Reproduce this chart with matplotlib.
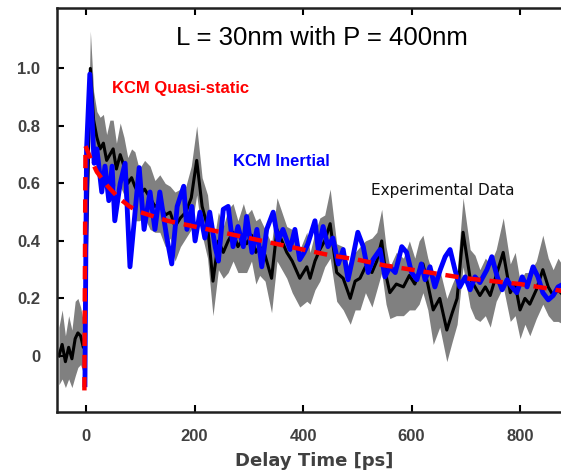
import numpy as np
import matplotlib
matplotlib.use("Agg")
from matplotlib import pyplot as plt

# experimental data (black line + grey band)
t_exp = [-50, -44, -38, -32, -26, -20, -15, -10, -5, -3, 8, 14, 20, 26, 32, 38, 44, 50, 56, 63,
         70, 77, 84, 90, 98, 108, 118, 127, 136, 146, 155, 164, 174, 184, 194, 204, 214, 224, 234, 244,
         253, 262, 271, 280, 290, 296, 305, 313, 320, 330, 342, 352, 361, 370, 380, 394, 407, 413, 422, 431,
         440, 450, 462, 474, 487, 496, 505, 515, 527, 536, 545, 553, 560, 572, 585, 596, 606, 614, 621, 630,
         640, 652, 665, 675, 684, 695, 708, 717, 726, 736, 745, 756, 769, 782, 791, 800, 809, 818, 830, 842,
         852, 861, 870, 880]
v_exp = [0.00, 0.04, -0.02, 0.03, -0.01, 0.06, 0.08, 0.07, 0.03, 0.04, 1.00, 0.82, 0.76, 0.72, 0.74, 0.68, 0.70, 0.72, 0.65, 0.70,
         0.66, 0.60, 0.62, 0.59, 0.56, 0.58, 0.55, 0.52, 0.53, 0.49, 0.50, 0.45, 0.48, 0.50, 0.55, 0.68, 0.52, 0.45, 0.26, 0.40,
         0.36, 0.40, 0.43, 0.38, 0.41, 0.39, 0.42, 0.36, 0.38, 0.35, 0.27, 0.44, 0.40, 0.36, 0.33, 0.27, 0.31, 0.27, 0.33, 0.37,
         0.40, 0.46, 0.29, 0.27, 0.20, 0.26, 0.27, 0.31, 0.29, 0.33, 0.40, 0.28, 0.22, 0.25, 0.24, 0.28, 0.25, 0.29, 0.32, 0.25,
         0.16, 0.20, 0.09, 0.15, 0.20, 0.43, 0.27, 0.24, 0.21, 0.24, 0.21, 0.28, 0.36, 0.22, 0.25, 0.16, 0.20, 0.18, 0.23, 0.30,
         0.24, 0.21, 0.23, 0.21]
err_exp = [0.10, 0.12, 0.09, 0.11, 0.10, 0.13, 0.12, 0.10, 0.09, 0.09, 0.13, 0.10, 0.09, 0.11, 0.10, 0.09, 0.12, 0.10, 0.09, 0.11,
           0.10, 0.09, 0.10, 0.12, 0.09, 0.10, 0.11, 0.09, 0.10, 0.11, 0.09, 0.12, 0.10, 0.09, 0.11, 0.12, 0.10, 0.11, 0.12, 0.10,
           0.09, 0.11, 0.10, 0.09, 0.12, 0.10, 0.09, 0.11, 0.10, 0.09, 0.12, 0.11, 0.10, 0.09, 0.11, 0.10, 0.12, 0.09, 0.10, 0.11,
           0.09, 0.12, 0.10, 0.11, 0.09, 0.10, 0.11, 0.09, 0.12, 0.10, 0.11, 0.10, 0.09, 0.11, 0.10, 0.12, 0.09, 0.11, 0.10, 0.09,
           0.12, 0.10, 0.11, 0.10, 0.09, 0.12, 0.10, 0.11, 0.09, 0.10, 0.11, 0.09, 0.12, 0.10, 0.11, 0.10, 0.09, 0.11, 0.10, 0.12,
           0.10, 0.09, 0.11, 0.10]

# KCM inertial (blue)
t_in = [-2, 1, 7, 15, 20, 29, 35, 42, 48, 53, 63, 72, 81, 98, 107, 118, 127, 136, 149, 158,
        168, 180, 186, 195, 201, 210, 219, 228, 238, 244, 253, 262, 271, 280, 290, 296, 306, 315, 324, 333,
        345, 354, 363, 376, 385, 394, 402, 409, 422, 428, 437, 446, 455, 465, 474, 483, 492, 501, 511, 520,
        529, 542, 551, 560, 570, 582, 591, 600, 610, 618, 625, 634, 643, 653, 662, 671, 680, 689, 699, 708,
        717, 726, 739, 748, 758, 767, 776, 785, 794, 804, 813, 824, 833, 842, 852, 861, 870, 880]
v_in = [-0.10, 0.72, 0.98, 0.67, 0.72, 0.57, 0.66, 0.54, 0.66, 0.47, 0.60, 0.67, 0.31, 0.655, 0.44, 0.57, 0.44, 0.57, 0.41, 0.32,
        0.52, 0.59, 0.44, 0.52, 0.40, 0.50, 0.41, 0.50, 0.38, 0.33, 0.51, 0.52, 0.38, 0.45, 0.38, 0.485, 0.36, 0.44, 0.31, 0.44,
        0.50, 0.40, 0.44, 0.37, 0.44, 0.335, 0.36, 0.39, 0.47, 0.37, 0.45, 0.38, 0.41, 0.32, 0.37, 0.265, 0.345, 0.43, 0.38, 0.29,
        0.335, 0.37, 0.275, 0.31, 0.29, 0.38, 0.36, 0.29, 0.265, 0.32, 0.265, 0.31, 0.24, 0.30, 0.345, 0.37, 0.30, 0.24, 0.275, 0.23,
        0.275, 0.255, 0.30, 0.345, 0.275, 0.23, 0.265, 0.24, 0.22, 0.275, 0.24, 0.31, 0.275, 0.22, 0.195, 0.21, 0.24, 0.25]

# KCM quasi-static (red dashed)
t_qs = [-3, -1, 10, 20, 40, 60, 80, 100, 150, 200, 250, 300, 350, 400, 450, 500, 550, 600, 650, 700,
        750, 800, 850, 880]
v_qs = [-0.12, 0.73, 0.68, 0.64, 0.59, 0.55, 0.52, 0.50, 0.47, 0.45, 0.43, 0.41, 0.39, 0.37, 0.35, 0.335, 0.315, 0.30, 0.285, 0.27,
        0.26, 0.25, 0.235, 0.225]

x_ticks = [0, 200, 400, 600, 800]
y_ticks = [0, 0.2, 0.4, 0.6, 0.8, 1.0]
y_ticklabels = ["0", "0.2", "0.4", "0.6", "0.8", "1.0"]

plt.rcParams['font.family'] = ['Liberation Sans', 'DejaVu Sans']
grey = '#404040'

fig = plt.figure(figsize=(5.61, 4.72), dpi=100)
ax = fig.add_axes([57/561, 60/472, 504/561, 404/472])

t_exp = np.array(t_exp)
v_exp = np.array(v_exp)
err_exp = np.array(err_exp)
ax.fill_between(t_exp, v_exp - err_exp, v_exp + err_exp, color='#808080', lw=0)
ax.plot(t_exp, v_exp, color='black', lw=2.2)
ax.plot(t_in, v_in, color='#0000ff', lw=3.5)
ax.plot(t_qs, v_qs, color='#ff0000', lw=3.2, dashes=(3, 2))

ax.set_xlim(-53.5, 875.5)
ax.set_ylim(-0.195, 1.21)
ax.set_xticks(x_ticks)
ax.set_yticks(y_ticks)
ax.set_yticklabels(y_ticklabels)
ax.tick_params(direction='in', length=5, width=1.5, top=True, right=False,
               labelsize=12, labelcolor=grey, pad=12)
for lab in ax.get_xticklabels() + ax.get_yticklabels():
    lab.set_fontweight('bold')
for s in ['left', 'bottom', 'top']:
    ax.spines[s].set_linewidth(1.8)
    ax.spines[s].set_color('#202020')
ax.spines['right'].set_visible(False)

ax.set_xlabel('Delay Time [ps]', fontsize=13, fontweight='bold', color=grey, family='DejaVu Sans')
ax.xaxis.set_label_coords(0.51, -0.1)

ax.text(435, 1.106, 'L = 30nm with P = 400nm', fontsize=18.5, ha='center', va='center')
ax.text(48, 0.93, 'KCM Quasi-static', color='#ff0000', fontsize=12, fontweight='bold', va='center')
ax.text(271, 0.675, 'KCM Inertial', color='#0000ff', fontsize=12, fontweight='bold', va='center')
ax.text(525, 0.577, 'Experimental Data', color='#111111', fontsize=11, va='center', family='DejaVu Sans')

fig.savefig('out.png', dpi=100)
